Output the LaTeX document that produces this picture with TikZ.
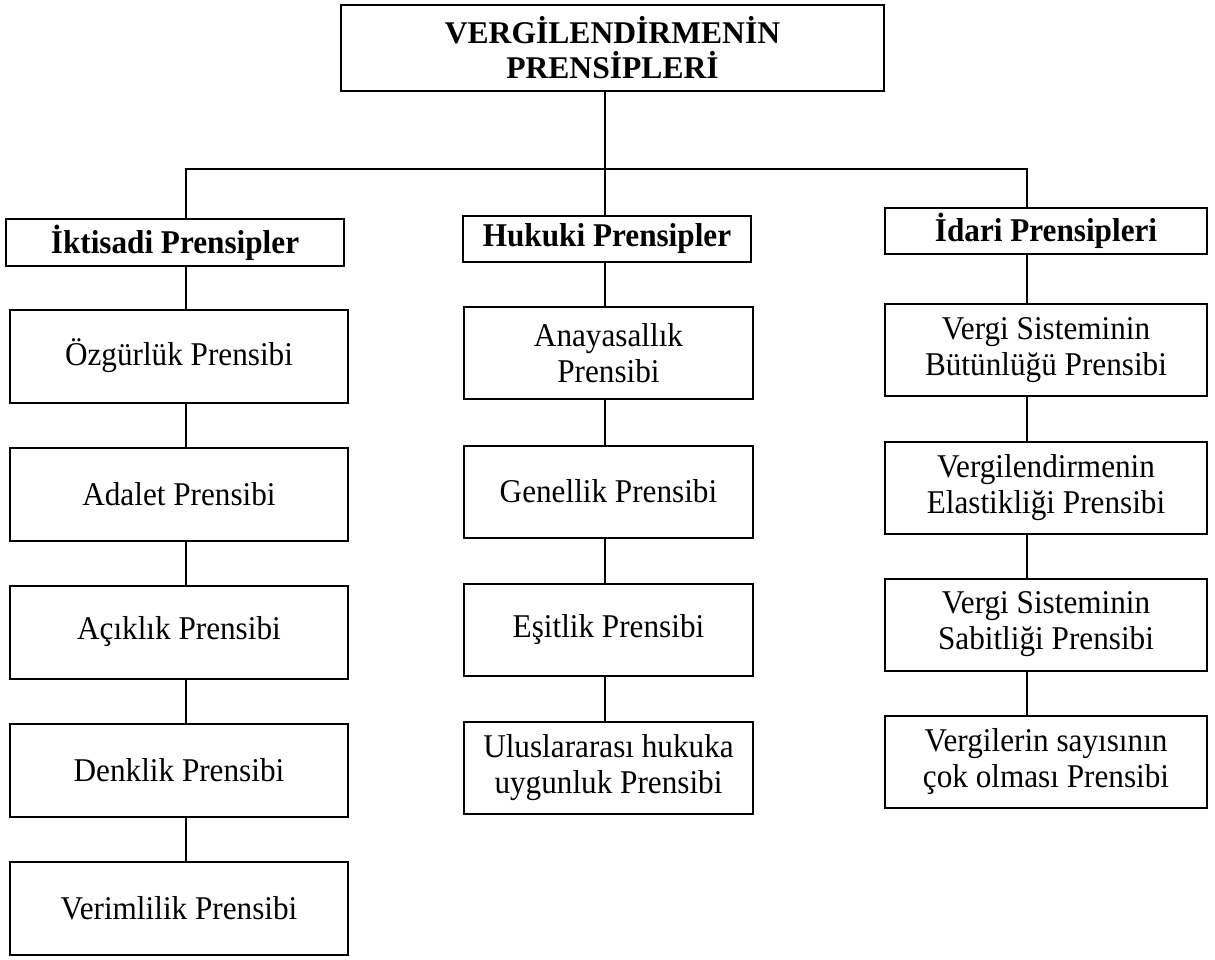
\documentclass[tikz,border=0pt]{standalone}
\usepackage{fontspec}
\setmainfont{Liberation Serif}[FakeStretch=0.94]
\newfontfamily\anafont{Liberation Serif}
\usetikzlibrary{positioning}

\begin{document}
\begin{tikzpicture}[x=0.5pt,y=-0.5pt,line width=1pt,
	kutu/.style={draw,align=center,inner sep=0pt,font=\fontsize{16.6}{18}\selectfont},
	baslik/.style={kutu,font=\fontsize{16.6}{18}\selectfont\bfseries},
	sol/.style={kutu,minimum width=169pt,minimum height=46.5pt},
	orta/.style={kutu,minimum width=144.5pt,minimum height=46pt},
	sag/.style={kutu,minimum width=161pt,minimum height=46pt}]
	\useasboundingbox (0,0) rectangle (1215,959);
	% dikey baglanti hatlari
	\coordinate (solx) at (186,0);
	\coordinate (ortax) at (605,0);
	\coordinate (sagx) at (1027,0);
	\coordinate (bar) at (605,169);
	\node[baslik,font=\anafont\fontsize{15.8}{17.5}\selectfont\bfseries,minimum width=271.5pt,minimum height=43pt] (ana) at (612.5,47.5)
		{VERGİLENDİRMENİN\\PRENSİPLERİ};
	\node[baslik,minimum width=169pt,minimum height=23.5pt] (ikt) at (175,242.5) {İktisadi Prensipler};
	\node[baslik,minimum width=144pt,minimum height=23pt] (huk) at (607,239) {Hukuki Prensipler};
	\node[baslik,minimum width=161pt,minimum height=23pt] (idr) at (1046,231) {İdari Prensipleri};
	% iktisadi
	\node[sol] (ozg) at (179,356) {Özgürlük Prensibi};
	\node[sol] (ada) at (179,494) {Adalet Prensibi};
	\node[sol] (aci) at (179,632) {Açıklık Prensibi};
	\node[sol] (den) at (179,770) {Denklik Prensibi};
	\node[sol] (ver) at (179,908) {Verimlilik Prensibi};
	% hukuki
	\node[orta] (ana1) at (608.5,353) {Anayasallık\\Prensibi};
	\node[orta] (gen) at (608.5,491.5) {Genellik Prensibi};
	\node[orta] (esi) at (608.5,629.5) {Eşitlik Prensibi};
	\node[orta] (ulu) at (608.5,767.5) {Uluslararası hukuka\\uygunluk Prensibi};
	% idari
	\node[sag] (but) at (1046,350) {Vergi Sisteminin\\Bütünlüğü Prensibi};
	\node[sag] (ela) at (1046,487.5) {Vergilendirmenin\\Elastikliği Prensibi};
	\node[sag] (sab) at (1046,624.5) {Vergi Sisteminin\\Sabitliği Prensibi};
	\node[sag] (say) at (1046,761.5) {Vergilerin sayısının\\çok olması Prensibi};
	\draw (ana.south -| ortax) -- (huk.north -| ortax);
	\draw (ikt.north -| solx) |- (bar) -| (idr.north -| sagx);
	\foreach \a/\b in {ikt/ozg,ozg/ada,ada/aci,aci/den,den/ver}
		\draw (\a.south -| solx) -- (\b.north -| solx);
	\foreach \a/\b in {huk/ana1,ana1/gen,gen/esi,esi/ulu}
		\draw (\a.south -| ortax) -- (\b.north -| ortax);
	\foreach \a/\b in {idr/but,but/ela,ela/sab,sab/say}
		\draw (\a.south -| sagx) -- (\b.north -| sagx);
\end{tikzpicture}
\end{document}
